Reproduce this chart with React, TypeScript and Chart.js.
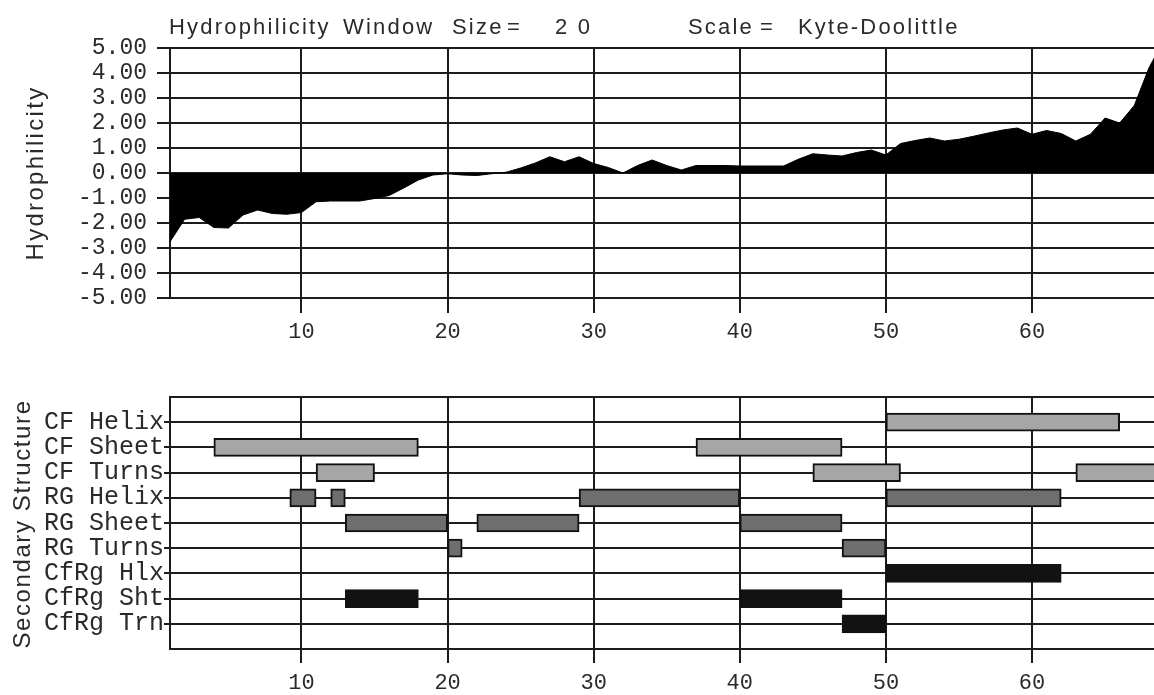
import React, { useEffect, useRef } from 'react';
import { Chart, registerables } from 'chart.js';

Chart.register(...registerables);

// ---------- Data ----------
const residuePositions = [
  1, 2, 3, 4, 5, 6, 7, 8, 9, 10, 11, 12, 13, 14, 15, 16, 17, 18, 19, 20, 21, 22, 23,
  24, 25, 26, 27, 28, 29, 30, 31, 32, 33, 34, 35, 36, 37, 38, 39, 40, 41, 42, 43, 44,
  45, 46, 47, 48, 49, 50, 51, 52, 53, 54, 55, 56, 57, 58, 59, 60, 61, 62, 63, 64, 65,
  66, 67, 68, 69,
];
const hydrophilicity = [
  -2.75, -1.85, -1.78, -2.18, -2.2, -1.68, -1.48, -1.62, -1.65, -1.58, -1.15, -1.12,
  -1.12, -1.12, -1.02, -0.9, -0.6, -0.28, -0.08, -0.03, -0.08, -0.1, -0.03, 0.03, 0.2,
  0.4, 0.65, 0.45, 0.65, 0.38, 0.22, 0.0, 0.3, 0.52, 0.3, 0.12, 0.3, 0.3, 0.3, 0.28,
  0.28, 0.28, 0.28, 0.55, 0.77, 0.72, 0.68, 0.82, 0.92, 0.72, 1.18, 1.3, 1.4, 1.28,
  1.35, 1.47, 1.6, 1.72, 1.8, 1.55, 1.7, 1.58, 1.28, 1.55, 2.2, 2.0, 2.7, 4.2, 5.3,
];
const xTickValues = [10, 20, 30, 40, 50, 60];
const xMin = 1;
const xMax = 68.35;
const yMin = -5;
const yMax = 5;

const titleWords = ['Hydrophilicity', 'Window', 'Size', '=', '2 0', 'Scale', '=', 'Kyte-Doolittle'];
const topAxisTitle = 'Hydrophilicity';
const bottomAxisTitle = 'Secondary Structure';

const structureLabels = [
  'CF Helix', 'CF Sheet', 'CF Turns', 'RG Helix', 'RG Sheet', 'RG Turns',
  'CfRg Hlx', 'CfRg Sht', 'CfRg Trn',
];
const cfHelix = [[50, 66]];
const cfSheet = [[4, 18], [37, 47]];
const cfTurns = [[11, 15], [45, 51], [63, 70]];
const rgHelix = [[9.2, 11], [12, 13], [29, 40], [50, 62]];
const rgSheet = [[13, 20], [22, 29], [40, 47]];
const rgTurns = [[20, 21], [47, 50]];
const cfrgHlx = [[50, 62]];
const cfrgSht = [[13, 18], [40, 47]];
const cfrgTrn = [[47, 50]];

const structureSegments = [cfHelix, cfSheet, cfTurns, rgHelix, rgSheet, rgTurns, cfrgHlx, cfrgSht, cfrgTrn];

// ---------- Styles ----------
const LINE = '#1c1c1c';
const TEXT = '#2a2a2a';
const MONO = '"Liberation Mono", monospace';
const SANS = '"Liberation Sans", Arial, sans-serif';
const rowColors = ['#a6a6a6', '#a6a6a6', '#a6a6a6', '#6e6e6e', '#6e6e6e', '#6e6e6e', '#121212', '#121212', '#121212'];
const titleXs = [169, 343, 452, 507, 555, 688, 760, 798];

function drawRotated(ctx: CanvasRenderingContext2D, text: string, x: number, y: number, font: string, spacing: string) {
  ctx.save();
  ctx.translate(x, y);
  ctx.rotate(-Math.PI / 2);
  ctx.font = font;
  (ctx as any).letterSpacing = spacing;
  ctx.fillStyle = TEXT;
  ctx.textAlign = 'center';
  ctx.textBaseline = 'alphabetic';
  ctx.fillText(text, 0, 0);
  ctx.restore();
}

export default function App() {
  const topRef = useRef<HTMLCanvasElement | null>(null);
  const botRef = useRef<HTMLCanvasElement | null>(null);

  useEffect(() => {
    const topCanvas = topRef.current!;
    const botCanvas = botRef.current!;

    const xTicksSetter = (scale: any) => {
      scale.ticks = xTickValues.map((v) => ({ value: v }));
    };

    const topTextPlugin = {
      id: 'topText',
      afterDraw(chart: any) {
        const ctx = chart.ctx as CanvasRenderingContext2D;
        ctx.save();
        ctx.font = '22px ' + SANS;
        (ctx as any).letterSpacing = '2.2px';
        ctx.fillStyle = TEXT;
        ctx.textAlign = 'left';
        ctx.textBaseline = 'alphabetic';
        titleWords.forEach((w, i) => ctx.fillText(w, titleXs[i], 34));
        ctx.restore();
        drawRotated(ctx, topAxisTitle, 43, 173, '24px ' + SANS, '2.3px');
      },
    };

    const botTextPlugin = {
      id: 'botText',
      afterDraw(chart: any) {
        const ctx = chart.ctx as CanvasRenderingContext2D;
        drawRotated(ctx, bottomAxisTitle, 30, 179, '24px ' + SANS, '1.6px');
      },
    };

    const topChart = new Chart(topCanvas, {
      type: 'line',
      data: {
        datasets: [
          {
            data: residuePositions.map((x, i) => ({ x, y: hydrophilicity[i] })),
            borderColor: '#000',
            backgroundColor: '#000',
            borderWidth: 1,
            pointRadius: 0,
            tension: 0,
            fill: 'origin',
          },
        ],
      },
      options: {
        responsive: false,
        animation: false,
        layout: { padding: { top: 48, left: 0, right: 0, bottom: 0 } },
        plugins: { legend: { display: false }, tooltip: { enabled: false }, title: { display: false } },
        scales: {
          x: {
            type: 'linear',
            min: xMin,
            max: xMax,
            afterBuildTicks: xTicksSetter,
            afterFit: (s: any) => { s.height = 47; },
            grid: { color: LINE, lineWidth: 2, tickLength: 15, tickColor: LINE, drawTicks: true },
            border: { display: true, color: LINE, width: 2 },
            ticks: { color: TEXT, font: { family: MONO, size: 22 }, padding: 6, maxRotation: 0, autoSkip: false },
          },
          y: {
            type: 'linear',
            min: yMin,
            max: yMax,
            afterFit: (s: any) => { s.width = 170; },
            grid: { color: LINE, lineWidth: 2, tickLength: 13, tickColor: LINE },
            border: { display: true, color: LINE, width: 2 },
            ticks: {
              stepSize: 1,
              autoSkip: false,
              color: TEXT,
              font: { family: MONO, size: 23, lineHeight: 1 },
              padding: 10,
              callback: (v: any) => Number(v).toFixed(2),
            },
          },
        },
      },
      plugins: [topTextPlugin],
    } as any);

    const rowLabels = [''].concat(structureLabels, ['']);
    const maxSegs = Math.max(...structureSegments.map((s) => s.length));
    const barDatasets = [] as any[];
    for (let k = 0; k < maxSegs; k++) {
      const data = rowLabels.map((_, r) => {
        if (r === 0 || r === rowLabels.length - 1) return null;
        const seg = structureSegments[r - 1][k];
        return seg ? seg : null;
      });
      barDatasets.push({
        data,
        backgroundColor: rowLabels.map((_, r) => (r === 0 || r === rowLabels.length - 1 ? '#000' : rowColors[r - 1])),
        borderColor: '#111',
        borderWidth: 2,
        borderSkipped: false,
        barThickness: 18,
        grouped: false,
      });
    }

    const botChart = new Chart(botCanvas, {
      type: 'bar',
      data: { labels: rowLabels, datasets: barDatasets },
      options: {
        responsive: false,
        animation: false,
        indexAxis: 'y',
        layout: { padding: { top: 52, left: 0, right: 0, bottom: 0 } },
        plugins: { legend: { display: false }, tooltip: { enabled: false }, title: { display: false } },
        scales: {
          x: {
            type: 'linear',
            min: xMin,
            max: xMax,
            afterBuildTicks: xTicksSetter,
            afterFit: (s: any) => { s.height = 46; },
            grid: { color: LINE, lineWidth: 2, tickLength: 14, tickColor: LINE },
            border: { display: true, color: LINE, width: 2 },
            ticks: { color: TEXT, font: { family: MONO, size: 22 }, padding: 7, maxRotation: 0, autoSkip: false },
          },
          y: {
            type: 'category',
            offset: false,
            afterFit: (s: any) => { s.width = 170; },
            grid: {
              offset: false,
              color: LINE,
              lineWidth: 2,
              tickLength: 6,
              tickColor: (c: any) => (c.index === 0 || c.index === rowLabels.length - 1 ? 'rgba(0,0,0,0)' : LINE),
            },
            border: { display: true, color: LINE, width: 2 },
            ticks: { color: TEXT, font: { family: MONO, size: 25, lineHeight: 1 }, padding: 0, autoSkip: false },
          },
        },
      },
      plugins: [botTextPlugin],
    } as any);

    return () => {
      topChart.destroy();
      botChart.destroy();
    };
  }, []);

  return (
    <div style={{ position: 'absolute', left: 0, top: 0, width: 1154, height: 695, overflow: 'hidden', background: '#fff' }}>
      <canvas ref={topRef} width={1154} height={345} style={{ position: 'absolute', left: 0, top: 0 }} />
      <canvas ref={botRef} width={1154} height={350} style={{ position: 'absolute', left: 0, top: 345 }} />
    </div>
  );
}
